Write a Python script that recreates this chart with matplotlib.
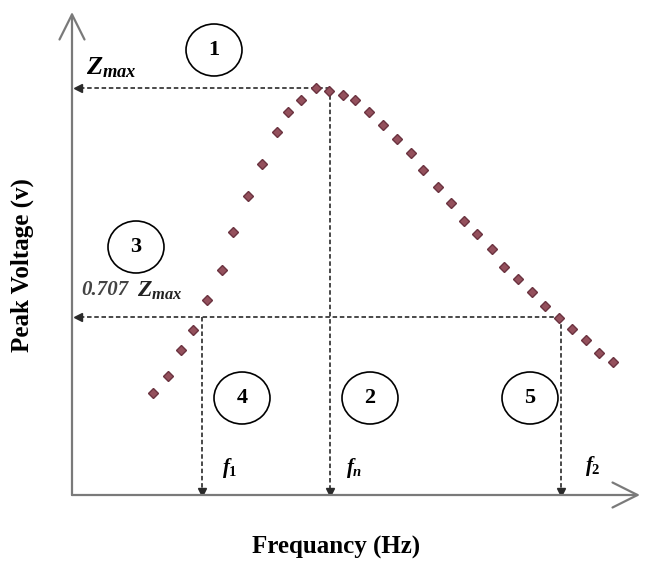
#!/usr/bin/env python3
"""Resonance curve sketch: peak voltage against frequency with half-power points."""

import matplotlib.pyplot as plt
from matplotlib.patches import Ellipse

# measured points (frequency, peak voltage) in arbitrary picture units
FREQ = [81, 96, 109, 121, 135, 150, 161, 176, 190, 205, 216, 229,
        244, 257, 271, 283, 297, 311, 325, 339, 351, 366, 379, 392,
        405, 420, 432, 446, 460, 473, 487, 500, 514, 527, 541]
VOLT = [102, 119, 145, 165, 195, 225, 263, 299, 331, 363, 383, 395,
        407, 404, 400, 395, 383, 370, 356, 342, 325, 308, 292, 274,
        261, 246, 228, 216, 203, 189, 177, 166, 155, 142, 133]
Z_MAX = 407
HALF_POWER = 178
F_N = 258
F_1 = 130
F_2 = 489
X_MAX = 568
Y_MAX = 483

CIRCLES = [("1", 142, 445), ("3", 64, 248), ("4", 170, 97),
           ("2", 298, 97), ("5", 458, 97)]

W, H = 652, 563

plt.rcParams.update({
    "mathtext.fontset": "custom",
    "mathtext.it": "Liberation Serif:italic:bold",
    "mathtext.rm": "Liberation Serif:bold",
    "mathtext.bf": "Liberation Serif:bold",
})

fig = plt.figure(figsize=(W / 100, H / 100), dpi=100)
ax = fig.add_axes((72 / W, (H - 495) / H, X_MAX / W, Y_MAX / H))
ax.set_xlim(0, X_MAX)
ax.set_ylim(0, Y_MAX)
ax.axis("off")

axis_color = "#7a7a7a"
for end in ((0, 1), (1, 0)):
    ax.annotate("", xy=end, xytext=(0, 0), xycoords="axes fraction",
                arrowprops=dict(arrowstyle="->,head_length=0.9,head_width=0.45",
                                color=axis_color, lw=1.6, mutation_scale=20,
                                shrinkA=0, shrinkB=0))

dash = dict(color="#3a3a3a", lw=1.3, linestyle=(0, (2.5, 1.5)))
tip = dict(color="#2a2a2a", markersize=6, linestyle="none")
# Z max guide lines
ax.plot([F_N, 6], [Z_MAX, Z_MAX], **dash)
ax.plot([6], [Z_MAX], marker="<", **tip)
ax.plot([F_N, F_N], [Z_MAX, 3], **dash)
ax.plot([F_N], [3], marker="v", **tip)
# half-power guide lines
ax.plot([F_2, 6], [HALF_POWER, HALF_POWER], **dash)
ax.plot([6], [HALF_POWER], marker="<", **tip)
for f in (F_1, F_2):
    ax.plot([f, f], [HALF_POWER, 3], **dash)
    ax.plot([f], [3], marker="v", **tip)

ax.plot(FREQ, VOLT, linestyle="none", marker="D", markersize=5.5,
        markerfacecolor="#94505c", markeredgecolor="#6b3340",
        markeredgewidth=1.0, zorder=5)

for label, cx, cy in CIRCLES:
    ax.add_patch(Ellipse((cx, cy), 56, 52, fill=False, edgecolor="black", lw=1.2))
    ax.text(cx, cy, label, ha="center", va="center", fontsize=16,
            family="Liberation Serif", weight="bold")

ax.text(14, 428, r"$Z_{max}$", fontsize=19, ha="left", va="center")
ax.text(9, 205, "0.707", fontsize=15, ha="left", va="center", color="#444444",
        family="Liberation Serif", style="italic", weight="bold")
ax.text(65, 205, r"$Z_{max}$", fontsize=17, ha="left", va="center",
        color="#222222")
ax.text(150, 27, r"$f_1$", fontsize=15, ha="left", va="center")
ax.text(274, 27, r"$f_n$", fontsize=15, ha="left", va="center")
ax.text(513, 29, r"$f_2$", fontsize=15, ha="left", va="center")

fig.text(22 / W, 1 - 265 / H, "Peak Voltage (v)", rotation=90, ha="center",
         va="center", fontsize=18, family="Liberation Serif", weight="bold")
fig.text(336 / W, 1 - 547 / H, "Frequancy (Hz)", ha="center", va="center",
         fontsize=18, family="Liberation Serif", weight="bold")

fig.savefig("out.png", dpi=100)
